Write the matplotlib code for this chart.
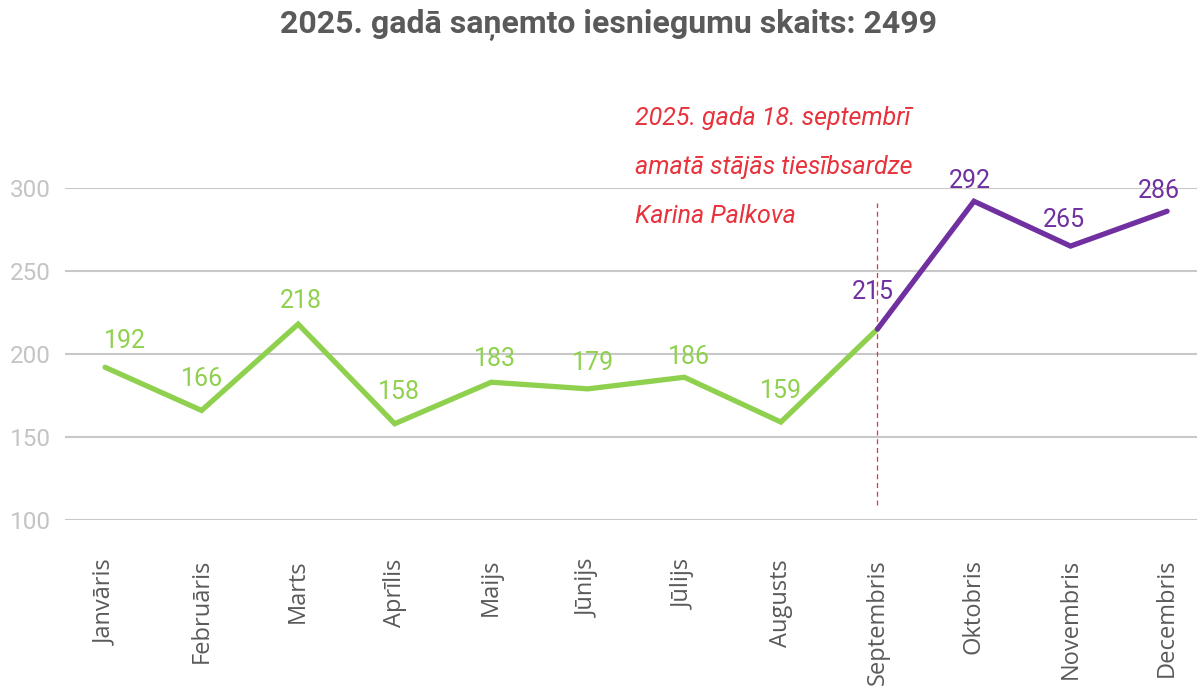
import numpy as np
import matplotlib
matplotlib.use("Agg")
import matplotlib.pyplot as plt

months = ["Janvāris", "Februāris", "Marts", "Aprīlis", "Maijs", "Jūnijs",
          "Jūlijs", "Augusts", "Septembris", "Oktobris", "Novembris", "Decembris"]
counts = [192, 166, 218, 158, 183, 179, 186, 159, 215, 292, 265, 286]
y_ticks = [100, 150, 200, 250, 300]
title = "2025. gadā saņemto iesniegumu skaits: 2499"
note_lines = ["2025. gada 18. septembrī",
              "amatā stājās tiesībsardze",
              "Karina Palkova"]
split = 8  # Septembris - start of the purple segment

green = "#8fd14f"
purple = "#7030a0"
red = "#e8323c"

fig = plt.figure(figsize=(11.97, 6.94), dpi=100, facecolor="w")
ax = fig.add_axes([65 / 1197, 1 - 520 / 694, 1 - 65 / 1197, (520 - 188) / 694])

x = np.arange(len(months))
ax.plot(x[:split + 1], counts[:split + 1], c=green, lw=3.8,
        solid_capstyle="round", solid_joinstyle="miter", zorder=3)
ax.plot(x[split:], counts[split:], c=purple, lw=3.8,
        solid_capstyle="round", solid_joinstyle="miter", zorder=4)

# data labels
offsets = [(14, 10), (0, 14), (2, 8), (3, 14), (3, 8), (4, 10),
           (3, 6), (0, 14), (-3, 18), (-3, 6), (-5, 10), (-6, 6)]
for i, v in enumerate(counts):
    col = green if i < split else purple
    ax.annotate(str(v), (x[i], v), xytext=offsets[i], textcoords="offset points",
                ha="center", va="bottom", color=col, fontsize=18,
                family="Roboto", zorder=5)

# vertical marker + note
ax.plot([split, split], [109, 291], ls=(0, (4, 3)), c=red, lw=0.9, zorder=2)
for k, line in enumerate(note_lines):
    ax.text(5.49, 342 - 29.3 * k, line, color=red, fontsize=18,
            style="italic", family="Roboto", va="center", ha="left",
            clip_on=False)

ax.set_xlim(-0.415, 11.31)
ax.set_ylim(100, 300)
ax.set_yticks(y_ticks)
ax.set_xticks(x)
ax.set_xticklabels(months, rotation=90, va="top", ha="center",
                   family="Open Sans", fontsize=17, color="#5a5a5a")
for lab in ax.get_yticklabels():
    lab.set_family("Roboto")
ax.tick_params(axis="y", labelsize=17.5, labelcolor="#c4c4c4", length=0, pad=10)
ax.tick_params(axis="x", length=0, pad=28)
ax.grid(axis="y", color="#c8c8c8", lw=1.5)
ax.set_axisbelow(True)
for s in ax.spines.values():
    s.set_visible(False)

fig.text(608 / 1197, 1 - 25 / 694, title, ha="center", va="center",
         fontsize=23, fontweight="bold", color="#5a5a5a", family="Roboto")

fig.savefig("out.png", dpi=100)
